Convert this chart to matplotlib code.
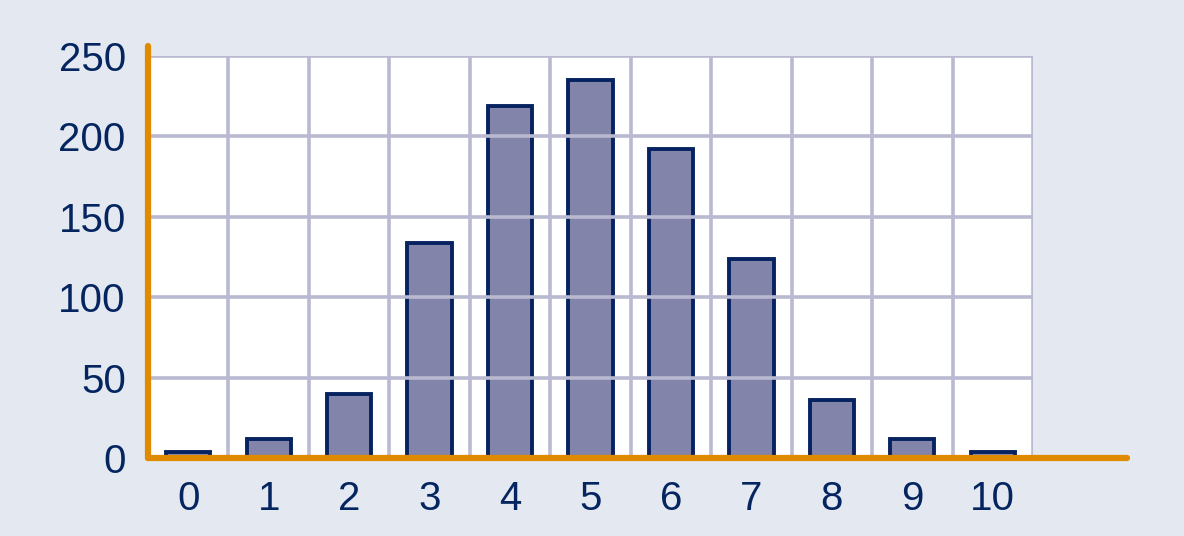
import matplotlib.pyplot as plt
import numpy as np

# 数据
categories = [0, 1, 2, 3, 4, 5, 6, 7, 8, 9, 10]
counts = [4, 12, 40, 134, 219, 235, 192, 124, 36, 12, 4]
yticks = [0, 50, 100, 150, 200, 250]

bg = '#e4e9f1'
grid_c = '#b9b9d1'
bar_c = '#8284a9'
edge_c = '#062260'
orange = '#e08a00'
text_c = '#052560'

plt.rcParams['font.family'] = ['Liberation Sans', 'DejaVu Sans']

fig = plt.figure(figsize=(11.84, 5.36), dpi=100, facecolor=bg)
ax = fig.add_axes([148 / 1184, 78 / 536, 885 / 1184, 402 / 536])
ax.set_facecolor('white')

ax.bar(categories, counts, width=0.55, color=bar_c, edgecolor=edge_c,
       linewidth=2.8, zorder=1)

ax.set_xlim(-0.5, 10.5)
ax.set_ylim(0, 250)
ax.set_yticks(yticks)
ax.set_xticks(categories)

# 网格线在柱子上面
ax.set_xticks(np.arange(-0.5, 11, 1), minor=True)
ax.grid(False)
ax.grid(True, which='minor', axis='x', color=grid_c, linewidth=2.6, zorder=2)
ax.grid(True, which='major', axis='y', color=grid_c, linewidth=2.6, zorder=2)
ax.set_axisbelow(False)

for s in ax.spines.values():
    s.set_visible(False)

ax.tick_params(axis='both', which='both', length=0, labelsize=29,
               labelcolor=text_c)
ax.tick_params(axis='y', pad=16)
ax.tick_params(axis='x', pad=16)

# 橙色坐标轴线
ax.plot([0, 1.106], [0, 0], transform=ax.transAxes, color=orange,
        linewidth=4.5, solid_capstyle='round', clip_on=False, zorder=5)
ax.plot([0, 0], [0, 1.025], transform=ax.transAxes, color=orange,
        linewidth=4.5, solid_capstyle='round', clip_on=False, zorder=5)

fig.savefig('out.png', dpi=100, facecolor=bg)
